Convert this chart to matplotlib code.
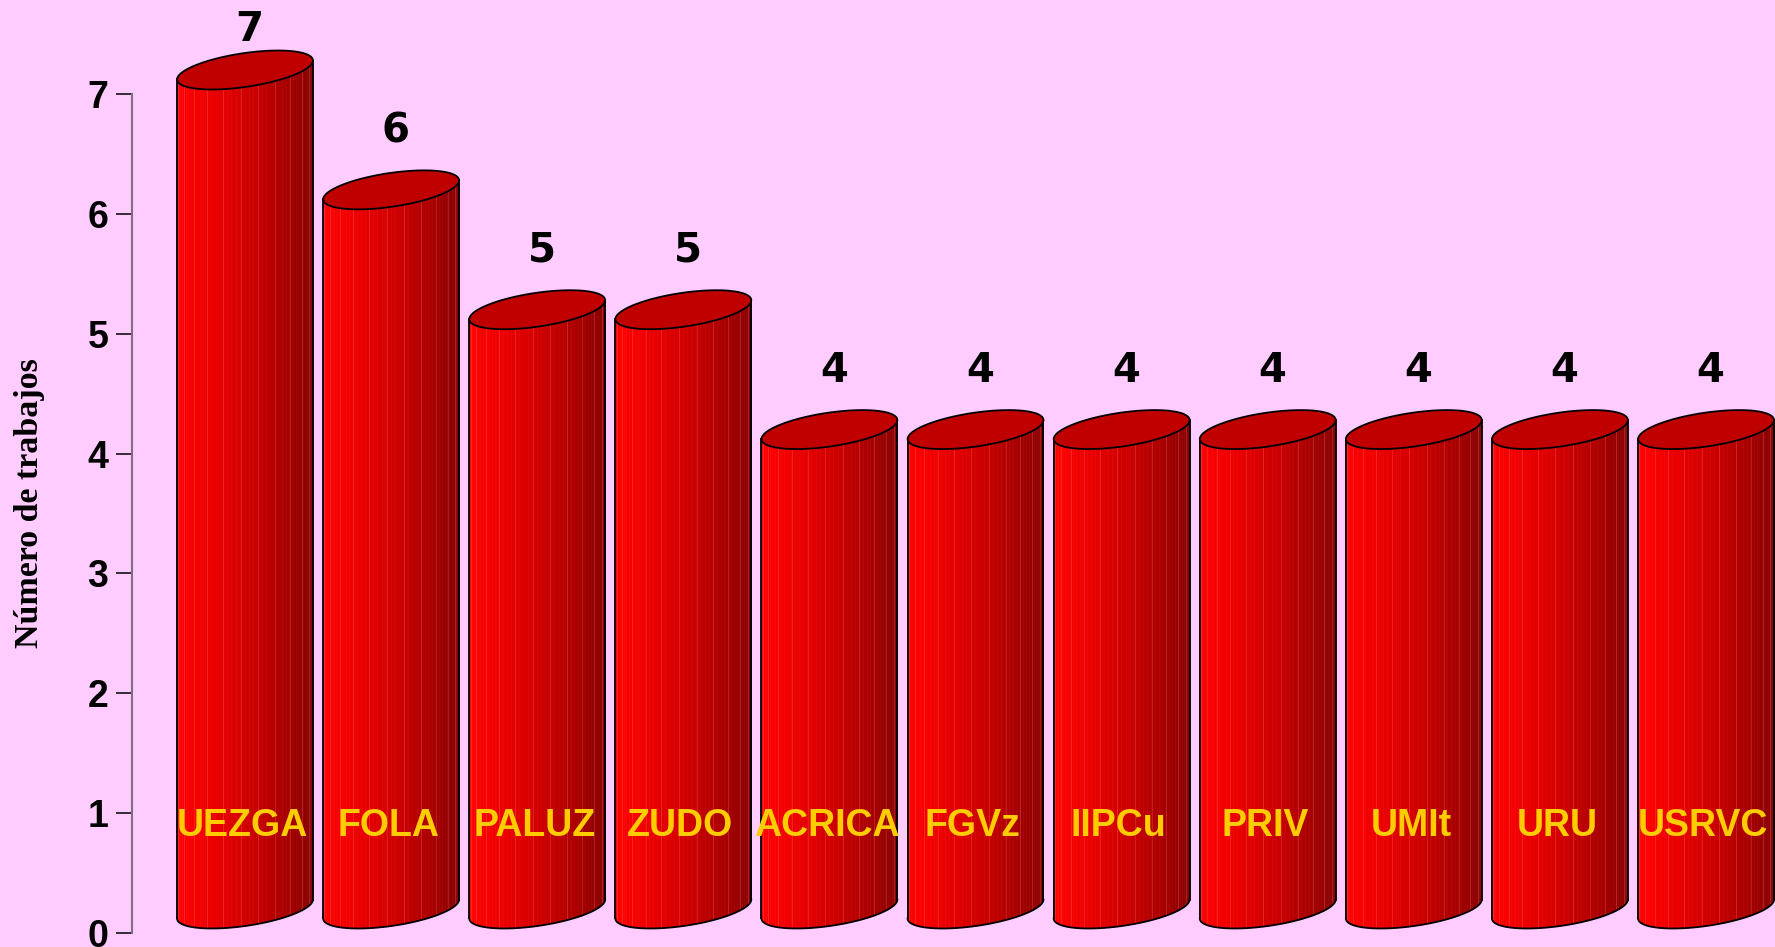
import numpy as np
import matplotlib
matplotlib.use("Agg")
import matplotlib.pyplot as plt
from matplotlib.patches import Polygon

categories = ["UEZGA", "FOLA", "PALUZ", "ZUDO", "ACRICA", "FGVz", "IIPCu",
              "PRIV", "UMIt", "URU", "USRVC"]
values = [7, 6, 5, 5, 4, 4, 4, 4, 4, 4, 4]
yticks = [0, 1, 2, 3, 4, 5, 6, 7]
ylabel = "Número de trabajos"

BG = "#FFCCFF"
TOP = "#C00000"
LABEL_YELLOW = "#FFCC00"

fig = plt.figure(figsize=(17.75, 9.47), dpi=100)
fig.patch.set_facecolor(BG)
ax = fig.add_axes([0, 0, 1, 1])
ax.set_facecolor(BG)
ax.set_xlim(-1.677, 10.472)
ax.set_ylim(-0.117, 7.784)

# cylinder geometry (data units)
rx = 0.465      # horizontal radius
ea = 0.142      # ellipse vertical semi-axis
es = 0.079      # tilt (right side higher)
lift = 0.2      # depth lift of cylinder
nfac = 48

def ell(xc, yc, t):
    return xc + rx * np.cos(t), yc + ea * np.sin(t) + es * np.cos(t)

def shade(u):
    r = 255 - 60 * u - 60 * u ** 2
    return (r / 255, 0, 0)

for i, v in enumerate(values):
    xc = i
    yb = lift
    yt = v + lift
    ts = np.linspace(np.pi, 2 * np.pi, nfac + 1)
    for k in range(nfac):
        t0, t1 = ts[k], ts[k + 1]
        x0, yb0 = ell(xc, yb, t0)
        x1, yb1 = ell(xc, yb, t1)
        _, yt0 = ell(xc, yt, t0)
        _, yt1 = ell(xc, yt, t1)
        u = ((x0 + x1) / 2 - (xc - rx)) / (2 * rx)
        c = shade(u)
        ax.add_patch(Polygon([(x0, yb0), (x1, yb1), (x1, yt1), (x0, yt0)],
                             closed=True, facecolor=c, edgecolor=c,
                             linewidth=0.4, zorder=2))
    # faint facet lines
    for k in range(3, nfac, 4):
        x0, yb0 = ell(xc, yb, ts[k])
        _, yt0 = ell(xc, yt, ts[k])
        ax.plot([x0, x0], [yb0, yt0], color=(1, 0.5, 0.5), lw=0.5,
                alpha=0.35, zorder=2.5)
    # outline of body
    tf = np.linspace(np.pi, 2 * np.pi, 80)
    bx, by = ell(xc, yb, tf)
    lx, lyb = ell(xc, yb, np.pi)
    _, lyt = ell(xc, yt, np.pi)
    rxp, ryb = ell(xc, yb, 2 * np.pi)
    _, ryt = ell(xc, yt, 2 * np.pi)
    ax.plot([lx, lx], [lyb, lyt], color="black", lw=1.3, zorder=3)
    ax.plot([rxp, rxp], [ryb, ryt], color="black", lw=1.3, zorder=3)
    ax.plot(bx, by, color="black", lw=1.3, zorder=3)
    # top ellipse
    ta = np.linspace(0, 2 * np.pi, 120)
    tx, ty = ell(xc, yt, ta)
    ax.add_patch(Polygon(np.column_stack([tx, ty]), closed=True,
                         facecolor=TOP, edgecolor="black", linewidth=1.3,
                         zorder=4))
    # value label
    ax.text(xc + 0.03, min(v + 0.69, 7.53), str(v), ha="center", va="center",
            fontsize=29, fontweight="bold", family="DejaVu Sans",
            color="black", zorder=5)
    # category label
    ax.text(xc - 0.02, 0.89, categories[i], ha="center", va="center",
            fontsize=27, fontweight="bold", family="Liberation Sans",
            color=LABEL_YELLOW, zorder=5)

for sp in ["top", "right", "bottom"]:
    ax.spines[sp].set_visible(False)
ax.spines["left"].set_position(("data", -0.773))
ax.spines["left"].set_bounds(0, 7)
ax.spines["left"].set_color("#7f6f7f")
ax.spines["left"].set_linewidth(1.5)
ax.set_xticks([])
ax.set_yticks(yticks)
ax.set_yticklabels([str(t) for t in yticks], fontsize=27, fontweight="bold",
                   family="Liberation Sans")
ax.tick_params(axis="y", direction="out", length=11.5, width=1.1,
               color="black", pad=5.5)

fig.text(0.0165, (947 - 503) / 947, ylabel, rotation=90, ha="center",
         va="center", fontsize=24.5, fontweight="bold", family="Liberation Serif")

fig.savefig("out.png", dpi=100, facecolor=BG)
